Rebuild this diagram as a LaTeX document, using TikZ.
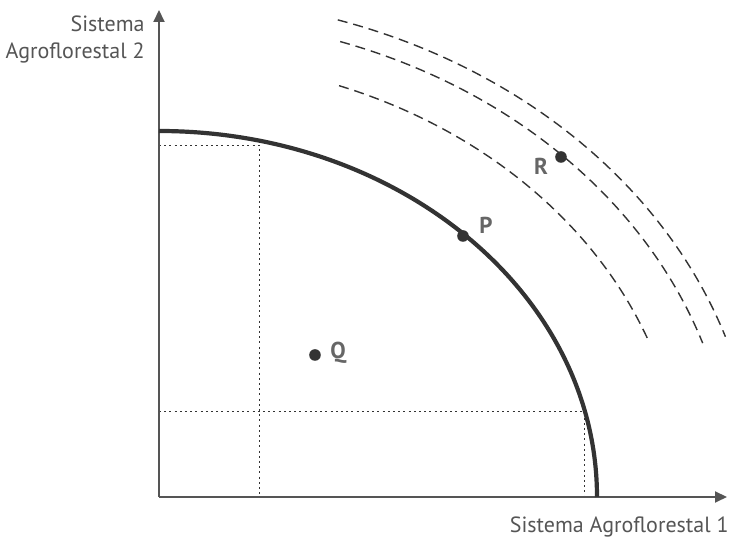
\documentclass[tikz,border=0pt]{standalone}
\usepackage{fontspec}
\setmainfont{PT Sans}
\usepackage{tikz}
\usetikzlibrary{arrows.meta, positioning}
\definecolor{axisgray}{HTML}{555555}
\definecolor{curvedark}{HTML}{333333}
\definecolor{labelgray}{HTML}{666666}
\tikzstyle{axis} = [draw=axisgray, line width=1pt, -{Triangle[length=6pt, width=5.5pt]}]
\tikzstyle{frontier} = [draw=curvedark, line width=2.1pt]
\tikzstyle{guide} = [draw=curvedark, line width=0.5pt, dash pattern=on 1pt off 1.6pt]
\tikzstyle{isoline} = [draw=curvedark, line width=0.7pt, dash pattern=on 5pt off 3pt]
\tikzstyle{dot} = [circle, fill=curvedark, inner sep=0pt, minimum size=5.8pt]
\tikzstyle{ptlabel} = [text=labelgray, font=\fontsize{11.5}{13}\selectfont\bfseries, inner sep=0pt]
\tikzstyle{axislabel} = [text=axisgray, font=\fontsize{11}{13.5}\selectfont, inner sep=0pt]
\begin{document}
\begin{tikzpicture}[x=0.5pt, y=0.5pt]
  \useasboundingbox (-159,-43) rectangle (571,497);

  \coordinate (origin) at (0,0);
  \coordinate (ytip) at (0,487);
  \coordinate (xtip) at (568,0);

  % guide lines
  \coordinate (g1) at (0,351);
  \coordinate (g2) at (101,351);
  \coordinate (g3) at (101,0);
  \coordinate (g4) at (0,85);
  \coordinate (g5) at (426,85);
  \coordinate (g6) at (426,0);
  \draw[guide] (g1) -- (g2) -- (g3);
  \draw[guide] (g4) -- (g5) -- (g6);

  % axes
  \draw[axis] (origin) -- (ytip);
  \draw[axis] (origin) -- (xtip);

  % frontier
  \draw[frontier] (0,366) arc[start angle=90, end angle=0, x radius=438, y radius=366];

  % dashed curves
  \draw[isoline] (origin) ++(69.9:524 and 438) arc[start angle=69.9, end angle=21.1, x radius=524, y radius=438];
  \draw[isoline] (origin) ++(71.6:574 and 480) arc[start angle=71.6, end angle=18.7, x radius=574, y radius=480];
  \draw[isoline] (origin) ++(72.6:598 and 500) arc[start angle=72.6, end angle=18.7, x radius=598, y radius=500];

  % points
  \node[dot] (p) at (304,261) {};
  \node[dot] (q) at (156,142) {};
  \node[dot] (r) at (402,340) {};
  \node[ptlabel] (plabel) at (327,272) {P};
  \node[ptlabel] (qlabel) at (179,144) {Q};
  \node[ptlabel] (rlabel) at (382,331) {R};

  % axis labels
  \node[axislabel, anchor=east, align=right] (ylabel) at (-14,457) {Sistema\\Agroflorestal 2};
  \node[axislabel, anchor=base east] (xlabel) at (570,-36) {Sistema Agroflorestal 1};

\end{tikzpicture}
\end{document}
